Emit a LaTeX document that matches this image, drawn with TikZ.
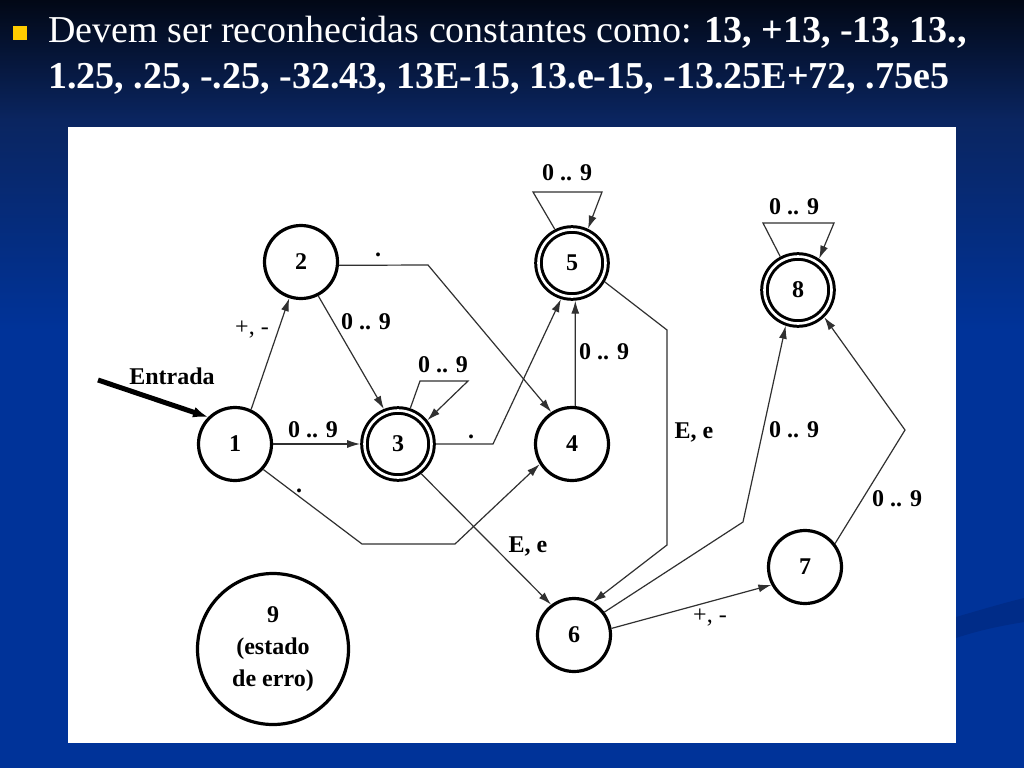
\documentclass[tikz,border=0pt]{standalone}
\usepackage{fontspec}
\setmainfont{Liberation Serif}
\newfontfamily\titlefont{Liberation Serif}
\usetikzlibrary{arrows.meta}
\definecolor{bgtop}{HTML}{020816}
\definecolor{bgmid}{HTML}{0A2560}
\definecolor{bgblue}{HTML}{003399}
\definecolor{swoosh}{HTML}{002C88}
\definecolor{bullet}{HTML}{FFCC00}
\definecolor{edgecol}{HTML}{303030}
\begin{document}
\begin{tikzpicture}[x=1pt,y=-1pt,
  state/.style={circle, draw, line width=3.2pt, minimum size=73pt, inner sep=0pt, outer sep=1.6pt,
    font=\rmfamily\fontsize{24}{26}\selectfont\bfseries},
  accept/.style={state, double, line width=3pt, double distance=2.6pt, minimum size=67pt, outer sep=4.3pt},
  edge/.style={draw=edgecol, line width=1.2pt, -{Latex[length=13pt,width=8pt]}},
  lbl/.style={font=\rmfamily\fontsize{24}{26}\selectfont\bfseries, inner sep=0pt},
  lblr/.style={font=\rmfamily\fontsize{24}{26}\selectfont, inner sep=0pt},
  title/.style={anchor=base west, inner sep=0pt, text=white, font=\titlefont\fontsize{38}{44}\selectfont}]
\useasboundingbox (0,0) rectangle (1024,768);
% background
\fill[bgblue] (0,0) rectangle (1024,768);
\shade[top color=bgtop, bottom color=bgmid] (0,0) rectangle (1024,120);
\shade[top color=bgmid, bottom color=bgblue] (0,119.5) rectangle (1024,330);
\fill[swoosh] (956,638) .. controls (980,630) and (1000,626) .. (1024,622) -- (1024,598) .. controls (1000,604) and (980,610) .. (956,617) -- cycle;
% title
\fill[bullet] (13,26) rectangle (27,40);
\node[title] (t1) at (48,43) {Devem ser reconhecidas constantes como: \textbf{13, +13, -13, 13.,}};
\node[title] (t2) at (48,88) {\textbf{1.25, .25, -.25, -32.43, 13E-15, 13.e-15, -13.25E+72, .75e5}};
% white panel
\fill[white] (68,127) rectangle (956,743);
% states
\node[state] (n1) at (235,444) {1};
\node[state] (n2) at (301,262) {2};
\node[accept] (n3) at (398,444) {3};
\node[state] (n4) at (572,444) {4};
\node[accept] (n5) at (572,263) {5};
\node[state] (n6) at (574,635) {6};
\node[state] (n7) at (805,567) {7};
\node[accept] (n8) at (798,290) {8};
\node[state, minimum size=151pt, align=center, font=\rmfamily\fontsize{24}{32}\selectfont\bfseries] (n9) at (273,649) {9\\(estado\\de erro)};
% entry
\coordinate (ent) at (98,380);
\draw[line width=5pt, -{Latex[length=15pt,width=11pt]}] (ent) -- (n1.135);
\node[lbl] (lent) at (172,376) {Entrada};
% edges
\draw[edge] (n1.65) -- (n2.252);
\draw[edge] (n2.297) -- (n3.112);
\draw[edge] (n1.0) -- (n3.180);
\draw[edge] (n3.71) -- (420,381) -- (468,381) -- (n3.39);
\draw[edge] (n2.355) -- (428,265) -- (n4.123);
\draw[edge] (n3.0) -- (493,444) -- (n5.253);
\draw[edge] (n1.318) -- (362,544) -- (455,544) -- (n4.212);
\draw[edge] (n4.85) -- (n5.275);
\draw[edge] (n5.117) -- (533,192) -- (602,192) -- (n5.65);
\draw[edge] (n5.330) -- (667,330) -- (667,545) -- (n6.60);
\draw[edge] (n3.308) -- (n6.127);
\draw[edge] (n6.37) -- (743,522) -- (n8.251);
\draw[edge] (n6.10) -- (n7.208);
\draw[edge] (n7.38) -- (905,430) -- (n8.314);
\draw[edge] (n8.118) -- (763,223) -- (834,223) -- (n8.56);
% labels
\node[lblr] (l12) at (252,330) {+, -};
\node[lbl] (l23) at (366,322) {0 .. 9};
\node[lbl] (l13) at (313,430) {0 .. 9};
\node[lbl] (l33) at (443,365) {0 .. 9};
\node[lbl, anchor=base] (l24) at (378,256) {.};
\node[lbl, anchor=base] (l35) at (471,438) {.};
\node[lbl, anchor=base] (l14) at (299,492) {.};
\node[lbl] (l45) at (604,352) {0 .. 9};
\node[lbl] (l55) at (567,173) {0 .. 9};
\node[lbl] (l56) at (694,432) {E, e};
\node[lbl] (l36) at (528,546) {E, e};
\node[lbl] (l68) at (794,430) {0 .. 9};
\node[lblr] (l67) at (710,618) {+, -};
\node[lbl] (l78) at (897,499) {0 .. 9};
\node[lbl] (l88) at (794,207) {0 .. 9};
\end{tikzpicture}
\end{document}
